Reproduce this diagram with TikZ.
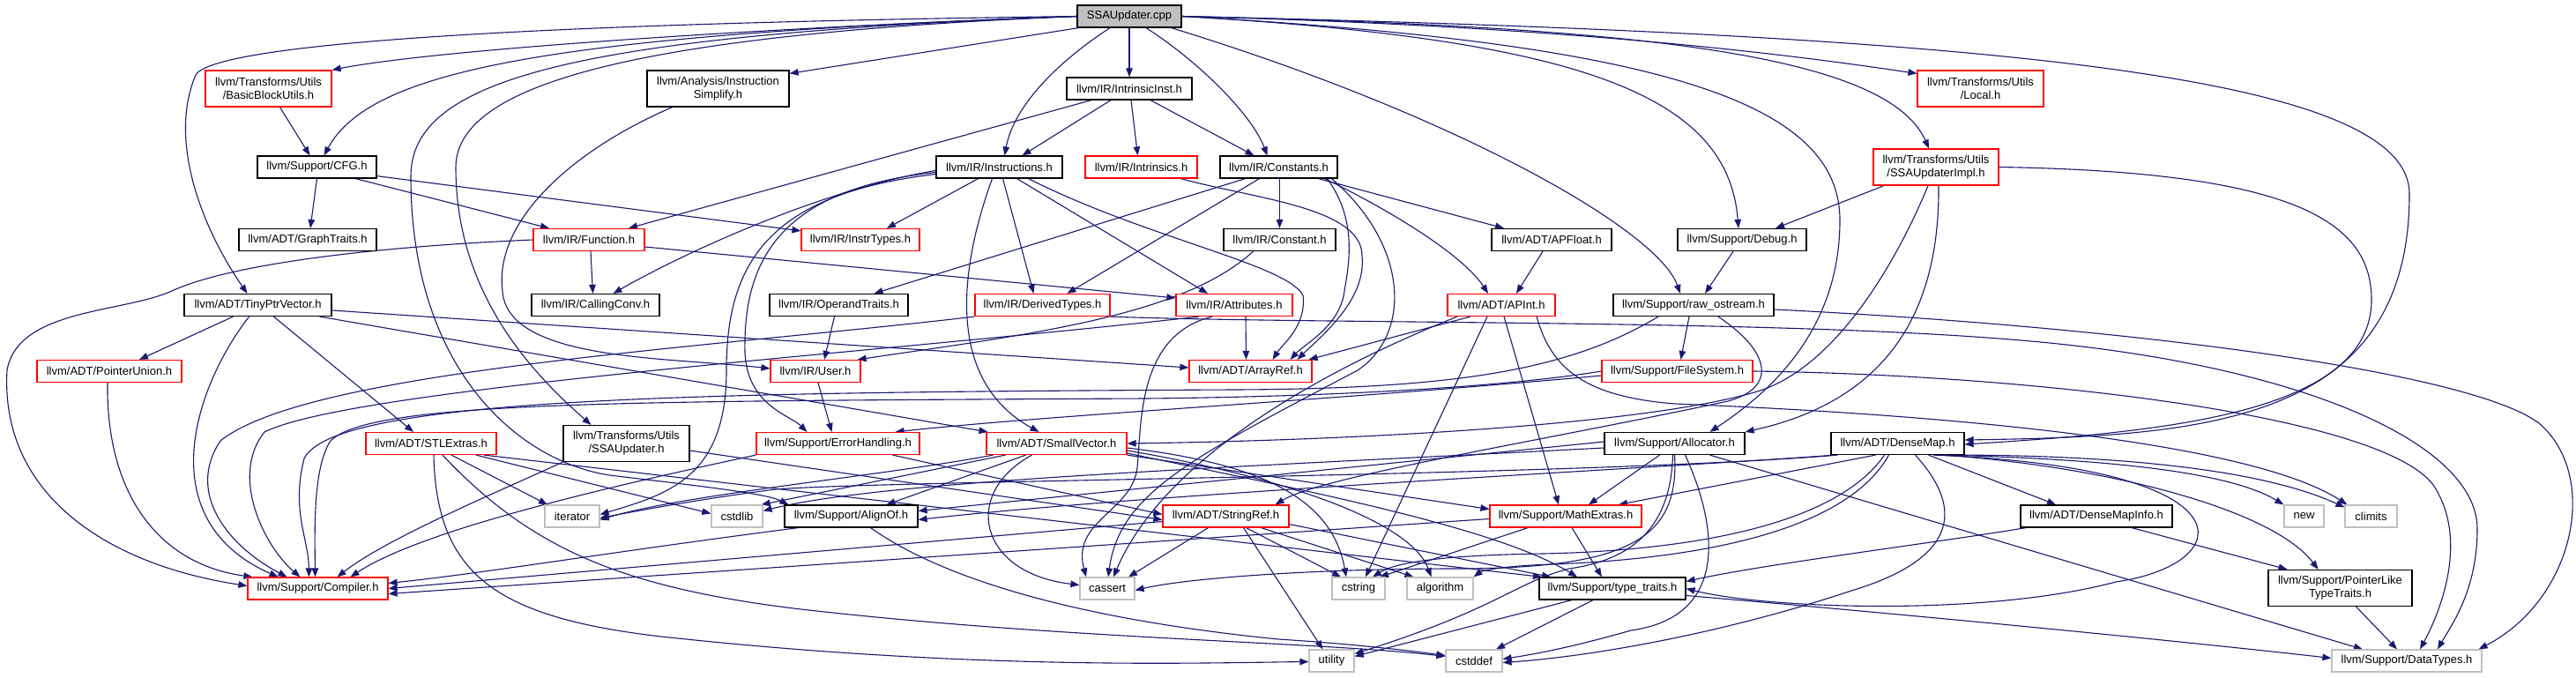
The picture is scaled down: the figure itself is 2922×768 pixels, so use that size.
\documentclass[tikz,border=0pt]{standalone}
\usepackage{fontspec}
\setmainfont{Liberation Sans}
\usetikzlibrary{arrows.meta,backgrounds}
\definecolor{edgec}{HTML}{191970}
\definecolor{grayb}{HTML}{BFBFBF}
\pgfdeclarelayer{bottom}
\pgfsetlayers{bottom,background,main}
\begin{document}
\begin{tikzpicture}[x=1pt,y=-1pt,
  box/.style={draw=black,line width=1.2pt,fill=white,rectangle,inner sep=0pt,minimum height=25pt,font=\fontsize{13}{15}\selectfont,align=center},
  redbox/.style={box,draw=red},
  graybox/.style={box,draw=grayb},
  rootbox/.style={box,fill=grayb},
  tall/.style={minimum height=41pt},
  edg/.style={draw=edgec,line width=1.1pt,-{Triangle[length=10pt,width=7.5pt]}}]
\begin{pgfonlayer}{bottom}
\fill[white] (0,0) rectangle (2922,768);
\end{pgfonlayer}
\useasboundingbox (0,0) rectangle (2922,768);
% nodes
\node[rootbox,minimum width=118pt] (R) at (1281,18.5) {SSAUpdater.cpp};
\node[redbox,tall,minimum width=143pt] (BBU) at (304.5,100.5) {llvm/Transforms/Utils\\/BasicBlockUtils.h};
\node[box,tall,minimum width=161pt] (InstSimp) at (814.5,100.5) {llvm/Analysis/Instruction\\Simplify.h};
\node[box,minimum width=142pt] (IntrinsicInst) at (1281,100.5) {llvm/IR/IntrinsicInst.h};
\node[redbox,tall,minimum width=143pt] (Local) at (2246.5,100.5) {llvm/Transforms/Utils\\/Local.h};
\node[box,minimum width=135pt] (CFG) at (359.5,189.5) {llvm/Support/CFG.h};
\node[box,minimum width=143pt] (Instructions) at (1133.5,189.5) {llvm/IR/Instructions.h};
\node[redbox,minimum width=127pt] (Intrinsics) at (1294.5,189.5) {llvm/IR/Intrinsics.h};
\node[box,minimum width=133pt] (Constants) at (1450.5,189.5) {llvm/IR/Constants.h};
\node[redbox,tall,minimum width=142pt] (SSAImpl) at (2196,189.5) {llvm/Transforms/Utils\\/SSAUpdaterImpl.h};
\node[box,minimum width=156pt] (GraphTraits) at (349,272) {llvm/ADT/GraphTraits.h};
\node[redbox,minimum width=126pt] (Function) at (668,272) {llvm/IR/Function.h};
\node[redbox,minimum width=134pt] (InstrTypes) at (976,272) {llvm/IR/InstrTypes.h};
\node[box,minimum width=127pt] (Constant) at (1451.5,272) {llvm/IR/Constant.h};
\node[box,minimum width=136pt] (APFloat) at (1760,272) {llvm/ADT/APFloat.h};
\node[box,minimum width=146pt] (Debug) at (1976,272) {llvm/Support/Debug.h};
\node[box,minimum width=167pt] (Tiny) at (292.5,346) {llvm/ADT/TinyPtrVector.h};
\node[box,minimum width=145pt] (CallingConv) at (675.5,346) {llvm/IR/CallingConv.h};
\node[box,minimum width=157pt] (OperandTraits) at (951.5,346) {llvm/IR/OperandTraits.h};
\node[redbox,minimum width=153pt] (DerivedTypes) at (1182.5,346) {llvm/IR/DerivedTypes.h};
\node[redbox,minimum width=132pt] (Attributes) at (1400,346) {llvm/IR/Attributes.h};
\node[redbox,minimum width=122pt] (APInt) at (1703,346) {llvm/ADT/APInt.h};
\node[box,minimum width=182pt] (RawOS) at (1921,346) {llvm/Support/raw\_ostream.h};
\node[redbox,minimum width=164pt] (PointerUnion) at (124,421) {llvm/ADT/PointerUnion.h};
\node[redbox,minimum width=102pt] (User) at (925,421) {llvm/IR/User.h};
\node[redbox,minimum width=139pt] (ArrayRef) at (1418.5,421) {llvm/ADT/ArrayRef.h};
\node[redbox,minimum width=171pt] (FileSystem) at (1902.5,421) {llvm/Support/FileSystem.h};
\node[redbox,minimum width=148pt] (STLExtras) at (489,503) {llvm/ADT/STLExtras.h};
\node[box,tall,minimum width=143pt] (SSAUpdaterH) at (710.5,503) {llvm/Transforms/Utils\\/SSAUpdater.h};
\node[redbox,minimum width=185pt] (ErrorHandling) at (950.5,503) {llvm/Support/ErrorHandling.h};
\node[redbox,minimum width=159pt] (SmallVector) at (1198.5,503) {llvm/ADT/SmallVector.h};
\node[box,minimum width=159pt] (Allocator) at (1899.5,503) {llvm/Support/Allocator.h};
\node[box,minimum width=151pt] (DenseMap) at (2152.5,503) {llvm/ADT/DenseMap.h};
\node[graybox,minimum width=62pt] (iterator) at (649,585.5) {iterator};
\node[graybox,minimum width=58pt] (cstdlib) at (836,585.5) {cstdlib};
\node[box,minimum width=151pt] (AlignOf) at (965.5,585.5) {llvm/Support/AlignOf.h};
\node[redbox,minimum width=143pt] (StringRef) at (1390.5,585.5) {llvm/ADT/StringRef.h};
\node[redbox,minimum width=172pt] (MathExtras) at (1776,585.5) {llvm/Support/MathExtras.h};
\node[box,minimum width=172pt] (DenseMapInfo) at (2378,585.5) {llvm/ADT/DenseMapInfo.h};
\node[graybox,minimum width=45pt] (nnew) at (2613.5,585.5) {new};
\node[graybox,minimum width=59pt] (climits) at (2689.5,585.5) {climits};
\node[redbox,minimum width=159pt] (Compiler) at (360.5,667.5) {llvm/Support/Compiler.h};
\node[graybox,minimum width=62pt] (cassert) at (1256,667.5) {cassert};
\node[graybox,minimum width=60pt] (cstring) at (1541,667.5) {cstring};
\node[graybox,minimum width=75pt] (algorithm) at (1633.5,667.5) {algorithm};
\node[box,minimum width=166pt] (TypeTraits) at (1829,667.5) {llvm/Support/type\_traits.h};
\node[box,tall,minimum width=163pt] (PointerLike) at (2654.5,667) {llvm/Support/PointerLike\\TypeTraits.h};
\node[graybox,minimum width=51pt] (utility) at (1510.5,749.5) {utility};
\node[graybox,minimum width=64pt] (cstddef) at (1672,749.5) {cstddef};
\node[graybox,minimum width=170pt] (DataTypes) at (2730,749.5) {llvm/Support/DataTypes.h};
\begin{scope}[on background layer]
% root
\draw[edg] (R.west) .. controls (900,30) and (500,55) .. (BBU.north east);
\draw[edg] (R.west) .. controls (620,40) and (420,80) .. ([xshift=8pt]CFG.north);
\draw[edg] (R.west) .. controls (500,28) and (240,55) .. (222,85) .. controls (190,160) and (230,260) .. ([xshift=-12pt]Tiny.north);
\draw[edg] ([xshift=2pt]R.south west) -- ([yshift=-4pt]InstSimp.north east);
\draw[edg] ([xshift=-22pt]R.south) .. controls (1200,70) and (1150,120) .. ([xshift=6pt]Instructions.north);
\draw[edg] (R.south) -- (IntrinsicInst.north);
\draw[edg] ([xshift=19pt]R.south) .. controls (1360,70) and (1420,130) .. ([xshift=-13pt]Constants.north);
\draw[edg] (R.east) .. controls (1800,30) and (2050,65) .. ([yshift=-4pt]Local.north west);
\draw[edg] (R.east) .. controls (1850,30) and (2140,60) .. ([xshift=-8pt]SSAImpl.north);
\draw[edg] (R.east) .. controls (1800,45) and (1960,110) .. ([xshift=-4pt]Debug.north);
\draw[edg] ([xshift=-12pt]R.south east) .. controls (1650,130) and (1880,260) .. ([xshift=-15pt]RawOS.north);
\draw[edg] (R.east) .. controls (2300,40) and (2733,90) .. (2733,220) .. controls (2733,480) and (2500,495) .. ([yshift=4pt]DenseMap.east);
\draw[edg] (R.west) .. controls (700,40) and (517,100) .. (517,190) .. controls (517,330) and (600,420) .. ([xshift=-40pt]SSAUpdaterH.north);
\draw[edg] (R.east) .. controls (1900,50) and (2087,120) .. (2087,250) .. controls (2087,380) and (2000,450) .. ([xshift=40pt]Allocator.north);
\draw[edg] (R.west) .. controls (650,40) and (466,90) .. (466,200) .. controls (466,430) and (600,530) .. (700,540) .. controls (800,552) and (870,560) .. ([xshift=5pt]AlignOf.north west);
% BBU, CFG
\draw[edg] ([xshift=13pt]BBU.south) -- ([xshift=-8pt]CFG.north);
\draw[edg] (CFG.south) -- ([xshift=3pt]GraphTraits.north);
\draw[edg] ([xshift=44pt]CFG.south) -- ([xshift=-45pt]Function.north);
\draw[edg] ([yshift=3pt]CFG.south east) -- ([yshift=-3pt]InstrTypes.north west);
% InstSimp
\draw[edg] ([xshift=-52pt]InstSimp.south) .. controls (650,170) and (560,250) .. (570,330) .. controls (575,410) and (760,405) .. ([yshift=3pt]User.west);
% IntrinsicInst
\draw[edg] ([xshift=-43pt]IntrinsicInst.south) -- ([xshift=45pt]Function.north);
\draw[edg] ([xshift=-21pt]IntrinsicInst.south) -- ([xshift=26pt]Instructions.north);
\draw[edg] ([xshift=2pt]IntrinsicInst.south) -- ([xshift=-4pt]Intrinsics.north);
\draw[edg] ([xshift=24pt]IntrinsicInst.south) -- ([xshift=-28pt]Constants.north);
% Instructions
\draw[edg] ([yshift=-4pt]Instructions.west) .. controls (930,215) and (770,290) .. ([xshift=20pt]CallingConv.north);
\draw[edg] ([xshift=-24pt]Instructions.south) -- ([xshift=30pt]InstrTypes.north);
\draw[edg] ([xshift=-8pt]Instructions.south) .. controls (1090,300) and (1070,430) .. ([xshift=-20pt]SmallVector.north);
\draw[edg] ([xshift=4pt]Instructions.south) -- ([xshift=-10pt]DerivedTypes.north);
\draw[edg] ([xshift=20pt]Instructions.south) -- ([xshift=-30pt]Attributes.north);
\draw[edg] ([xshift=33pt]Instructions.south) .. controls (1300,270) and (1460,300) .. (1478,335) .. controls (1482,370) and (1455,390) .. ([xshift=25pt]ArrayRef.north);
\draw[edg] ([yshift=-6pt]Instructions.west) .. controls (880,215) and (843,300) .. (845,400) .. controls (848,460) and (895,470) .. ([xshift=-35pt]ErrorHandling.north);
\draw[edg] ([yshift=-8pt]Instructions.west) .. controls (870,220) and (824,300) .. (824,420) .. controls (824,540) and (760,560) .. ([yshift=2pt]iterator.east);
% Function
\draw[edg] ([xshift=2pt]Function.south) -- ([xshift=-3pt]CallingConv.north);
\draw[edg] ([yshift=-8pt]Function.east) -- ([yshift=8pt]Attributes.west);
\draw[edg] (Function.west) .. controls (420,280) and (260,300) .. (195,330) .. controls (140,355) and (20,350) .. (8,420) .. controls (0,560) and (120,640) .. ([yshift=3pt]Compiler.west);
% Tiny
\draw[edg] ([xshift=-28pt]Tiny.south) -- ([xshift=34pt]PointerUnion.north);
\draw[edg] ([xshift=-10pt]Tiny.south) .. controls (220,440) and (170,590) .. ([xshift=-45pt]Compiler.north);
\draw[edg] ([xshift=18pt]Tiny.south) -- ([xshift=-20pt]STLExtras.north);
\draw[edg] ([xshift=70pt]Tiny.south) -- ([xshift=-78pt]SmallVector.north);
\draw[edg] ([yshift=-6pt]Tiny.east) -- ([yshift=4pt]ArrayRef.west);
\draw[edg] ([xshift=-2pt]PointerUnion.south) .. controls (120,560) and (180,640) .. ([xshift=6pt]Compiler.north west);
% STLExtras
\draw[edg] ([xshift=23pt]STLExtras.south) -- ([xshift=-28pt]iterator.north);
\draw[edg] ([xshift=51pt]STLExtras.south) -- ([yshift=3pt]cstdlib.west);
\draw[edg] ([xshift=60pt]STLExtras.south) -- ([xshift=-80pt]TypeTraits.north);
\draw[edg] ([xshift=3pt]STLExtras.south) .. controls (495,650) and (560,700) .. (750,722) .. controls (1100,760) and (1350,752) .. ([yshift=-1pt]utility.west);
\draw[edg] ([xshift=13pt]STLExtras.south) .. controls (600,620) and (700,665) .. (900,690) .. controls (1200,725) and (1500,728) .. ([yshift=5pt]cstddef.west);
% SSAUpdater.h
\draw[edg] (SSAUpdaterH.south west) .. controls (560,560) and (440,610) .. ([xshift=22pt]Compiler.north);
\draw[edg] ([yshift=-8pt]SSAUpdaterH.east) -- ([yshift=-4pt]StringRef.west);
% ErrorHandling, User, OperandTraits, Constant
\draw[edg] (ErrorHandling.south west) .. controls (700,550) and (480,600) .. ([xshift=37pt]Compiler.north);
\draw[edg] ([xshift=62pt]ErrorHandling.south) -- ([yshift=2pt]StringRef.west);
\draw[edg] ([xshift=3pt]User.south) -- ([xshift=-7pt]ErrorHandling.north);
\draw[edg] ([xshift=-5pt]OperandTraits.south) -- ([xshift=10pt]User.north);
\draw[edg] ([xshift=-30pt]Constant.south) .. controls (1340,360) and (1160,380) .. ([xshift=-4pt]User.north east);
% Constants
\draw[edg] ([xshift=1pt]Constants.south) -- (Constant.north);
\draw[edg] ([xshift=45pt]Constants.south) -- ([xshift=-54pt]APFloat.north);
\draw[edg] ([xshift=52pt]Constants.south) .. controls (1580,240) and (1660,290) .. ([xshift=-15pt]APInt.north);
\draw[edg] ([xshift=-38pt]Constants.south) -- ([xshift=40pt]OperandTraits.north);
\draw[edg] ([xshift=-22pt]Constants.south) -- ([xshift=28pt]DerivedTypes.north);
\draw[edg] ([xshift=55pt]Constants.south) .. controls (1540,250) and (1530,300) .. (1525,330) .. controls (1520,370) and (1480,390) .. ([xshift=45pt]ArrayRef.north);
\draw[edg] ([xshift=60pt]Constants.south) .. controls (1600,280) and (1600,380) .. (1540,420) .. controls (1350,520) and (1270,560) .. ([xshift=1pt]cassert.north);
\draw[edg] ([xshift=45pt]Intrinsics.south) .. controls (1420,225) and (1545,235) .. (1545,290) .. controls (1550,340) and (1500,380) .. ([xshift=53pt]ArrayRef.north);
% APFloat, Debug, SSAUpdaterImpl
\draw[edg] ([xshift=-10pt]APFloat.south) -- ([xshift=17pt]APInt.north);
\draw[edg] ([xshift=-10pt]Debug.south) -- ([xshift=13pt]RawOS.north);
\draw[edg] ([xshift=-59pt]SSAImpl.south) -- ([xshift=38pt]Debug.north);
\draw[edg] (SSAImpl.east) .. controls (2600,195) and (2690,250) .. (2690,340) .. controls (2690,470) and (2450,490) .. ([yshift=-1pt]DenseMap.east);
\draw[edg] ([xshift=3pt]SSAImpl.south) .. controls (2200,330) and (2160,450) .. (Allocator.north east);
\draw[edg] ([xshift=-9pt]SSAImpl.south) .. controls (2150,300) and (2080,420) .. (1990,445) .. controls (1850,485) and (1500,500) .. (SmallVector.east);
% raw_ostream
\draw[edg] ([xshift=-5pt]RawOS.south) -- ([xshift=4pt]FileSystem.north);
\draw[edg] ([xshift=28pt]RawOS.south) .. controls (2010,400) and (2015,440) .. (1960,455) .. controls (1750,500) and (1500,540) .. ([xshift=56pt]StringRef.north);
\draw[edg] ([xshift=-40pt]RawOS.south) .. controls (1780,420) and (1650,441) .. (1400,442) .. controls (800,445) and (380,450) .. (345,520) .. controls (330,580) and (350,610) .. ([xshift=-10pt]Compiler.north);
\draw[edg] ([yshift=-5pt]RawOS.east) .. controls (2400,370) and (2800,420) .. (2880,480) .. controls (2950,540) and (2920,680) .. ([xshift=-4pt]DataTypes.north east);
% FileSystem
\draw[edg] ([yshift=-5pt]FileSystem.west) .. controls (1500,455) and (1200,470) .. ([xshift=65pt]ErrorHandling.north);
\draw[edg] (FileSystem.west) .. controls (1700,440) and (1500,450) .. (1300,452) .. controls (700,455) and (420,455) .. (375,500) .. controls (355,530) and (357,600) .. ([xshift=-3pt]Compiler.north);
\draw[edg] (FileSystem.east) .. controls (2300,425) and (2700,470) .. (2760,550) .. controls (2800,610) and (2770,690) .. ([xshift=15pt]DataTypes.north);
% Attributes, DerivedTypes
\draw[edg] ([xshift=13pt]Attributes.south) -- ([xshift=-5pt]ArrayRef.north);
\draw[edg] ([xshift=-40pt]Attributes.south) .. controls (1000,400) and (400,440) .. (300,490) .. controls (260,540) and (300,620) .. ([xshift=-20pt]Compiler.north);
\draw[edg] ([xshift=-25pt]Attributes.south) .. controls (1290,380) and (1295,480) .. (1290,530) .. controls (1285,580) and (1215,590) .. ([xshift=-24pt]cassert.north);
\draw[edg] (DerivedTypes.south west) .. controls (800,395) and (350,420) .. (250,500) .. controls (210,560) and (260,620) .. ([xshift=-35pt]Compiler.north);
\draw[edg] (DerivedTypes.south east) .. controls (1500,368) and (2000,362) .. (2280,385) .. controls (2600,410) and (2810,500) .. (2810,600) .. controls (2810,670) and (2780,710) .. ([xshift=35pt]DataTypes.north);
% APInt
\draw[edg] ([xshift=-35pt]APInt.south) -- ([xshift=66pt]ArrayRef.north);
\draw[edg] ([xshift=3pt]APInt.south) -- ([xshift=-8pt]MathExtras.north);
\draw[edg] ([xshift=-16pt]APInt.south) -- ([xshift=8pt]cstring.north);
\draw[edg] ([xshift=-50pt]APInt.south) .. controls (1500,420) and (1320,520) .. ([xshift=7pt]cassert.north);
\draw[edg] ([xshift=40pt]APInt.south) .. controls (1760,420) and (1800,450) .. (1900,458) .. controls (2200,470) and (2550,500) .. ([xshift=3pt]climits.north west);
% Allocator
\draw[edg] ([xshift=-17pt]Allocator.south) -- ([xshift=26pt]MathExtras.north);
\draw[edg] (Allocator.south) .. controls (1905,610) and (1850,645) .. (1650,645) .. controls (1500,645) and (1350,655) .. ([yshift=-2pt]cassert.east);
\draw[edg] ([xshift=-2pt]Allocator.south) .. controls (1895,600) and (1850,635) .. (1780,645) .. controls (1720,660) and (1700,690) .. ([yshift=8pt]utility.east);
\draw[edg] ([xshift=12pt]Allocator.south) .. controls (1950,600) and (1960,700) .. (1850,715) .. controls (1780,735) and (1740,742) .. ([yshift=2pt]cstddef.east);
\draw[edg] ([xshift=40pt]Allocator.south) -- ([xshift=-50pt]DataTypes.north);
\draw[edg] ([yshift=2pt]Allocator.west) -- ([yshift=6pt]AlignOf.east);
\draw[edg] ([yshift=-5pt]Allocator.west) .. controls (1400,530) and (1000,545) .. ([yshift=6pt]cstdlib.east);
% DenseMap
\draw[edg] ([xshift=5pt]DenseMap.south west) .. controls (1900,530) and (1300,560) .. ([yshift=-4pt]AlignOf.east);
\draw[edg] ([xshift=8pt]DenseMap.south west) .. controls (1800,540) and (1000,545) .. (880,555) .. controls (800,565) and (720,580) .. ([yshift=-2pt]iterator.east);
\draw[edg] ([xshift=-25pt]DenseMap.south) -- ([xshift=60pt]MathExtras.north);
\draw[edg] ([xshift=-15pt]DenseMap.south) .. controls (2080,600) and (1900,625) .. (1750,628) .. controls (1620,630) and (1580,640) .. ([xshift=16pt]cstring.north);
\draw[edg] ([xshift=-10pt]DenseMap.south) .. controls (2090,610) and (1900,635) .. (1760,640) .. controls (1700,642) and (1680,648) .. (algorithm.north east);
\draw[edg] ([xshift=40pt]DenseMap.south) .. controls (2560,530) and (2540,640) .. (2400,660) .. controls (2250,700) and (2000,690) .. (TypeTraits.east);
\draw[edg] ([xshift=20pt]DenseMap.south) .. controls (2240,590) and (2200,640) .. (2100,670) .. controls (1950,720) and (1800,745) .. ([yshift=-2pt]cstddef.east);
\draw[edg] ([xshift=35pt]DenseMap.south) -- ([xshift=-46pt]DenseMapInfo.north);
\draw[edg] ([xshift=-20pt]DenseMap.south east) .. controls (2350,520) and (2520,530) .. (nnew.north west);
\draw[edg] ([xshift=-15pt]DenseMap.south east) .. controls (2350,516) and (2550,525) .. ([yshift=-3pt]climits.north west);
\draw[edg] ([xshift=-25pt]DenseMap.south east) .. controls (2400,530) and (2580,580) .. ([xshift=-25pt]PointerLike.north);
% lower level
\draw[edg] ([xshift=40pt]DenseMapInfo.south) -- ([xshift=-60pt]PointerLike.north);
\draw[edg] ([xshift=-80pt]DenseMapInfo.south) .. controls (2200,615) and (2000,640) .. ([yshift=8pt]TypeTraits.east);
\draw[edg] ([xshift=18pt]PointerLike.south) -- ([xshift=-11pt]DataTypes.north);
\draw[edg] ([yshift=-8pt]TypeTraits.east) .. controls (2200,700) and (2500,730) .. ([yshift=3pt]DataTypes.west);
\draw[edg] ([xshift=-46pt]TypeTraits.south) -- ([yshift=5pt]utility.east);
\draw[edg] ([xshift=-22pt]TypeTraits.south) -- ([xshift=25pt]cstddef.north);
\draw[edg] ([xshift=7pt]MathExtras.south) -- ([xshift=-12pt]TypeTraits.north);
\draw[edg] ([xshift=-43pt]MathExtras.south) -- ([xshift=24pt]cstring.north);
\draw[edg] ([yshift=-3pt]MathExtras.west) -- ([yshift=-6pt]Compiler.east);
\draw[edg] ([xshift=-20pt]StringRef.south) -- ([xshift=24pt]cassert.north);
\draw[edg] ([xshift=20pt]StringRef.south) -- ([xshift=-10pt]utility.north);
\draw[edg] ([xshift=23pt]StringRef.south) -- ([xshift=-20pt]cstring.north);
\draw[edg] ([xshift=40pt]StringRef.south) -- ([xshift=-30pt]algorithm.north);
\draw[edg] ([yshift=4pt]StringRef.south east) -- ([xshift=-70pt]TypeTraits.north);
\draw[edg] ([yshift=-6pt]StringRef.west) -- (Compiler.east);
\draw[edg] ([xshift=-35pt]SmallVector.south) -- ([xshift=40pt]AlignOf.north);
\draw[edg] ([xshift=-58pt]SmallVector.south) -- ([xshift=-2pt]cstdlib.north east);
\draw[edg] ([xshift=-72pt]SmallVector.south) .. controls (1000,540) and (780,560) .. ([yshift=-4pt]iterator.east);
\draw[edg] ([xshift=-28pt]SmallVector.south) .. controls (1090,560) and (1110,650) .. ([yshift=4pt]cassert.west);
\draw[edg] ([yshift=-5pt]SmallVector.east) .. controls (1420,525) and (1510,560) .. ([xshift=-14pt]cstring.north);
\draw[edg] ([yshift=-8pt]SmallVector.east) .. controls (1450,540) and (1600,590) .. ([xshift=-10pt]algorithm.north);
\draw[edg] ([yshift=-11pt]SmallVector.east) .. controls (1500,560) and (1700,600) .. ([xshift=-40pt]TypeTraits.north);
\draw[edg] (SmallVector.south east) -- ([yshift=8pt]MathExtras.west);
\draw[edg] ([xshift=-60pt]AlignOf.south) .. controls (700,625) and (550,650) .. ([yshift=6pt]Compiler.east);
\draw[edg] ([xshift=22pt]AlignOf.south) .. controls (1060,650) and (1200,700) .. (1450,725) .. controls (1530,730) and (1600,738) .. ([yshift=6pt]cstddef.west);
\end{scope}
\end{tikzpicture}
\end{document}
